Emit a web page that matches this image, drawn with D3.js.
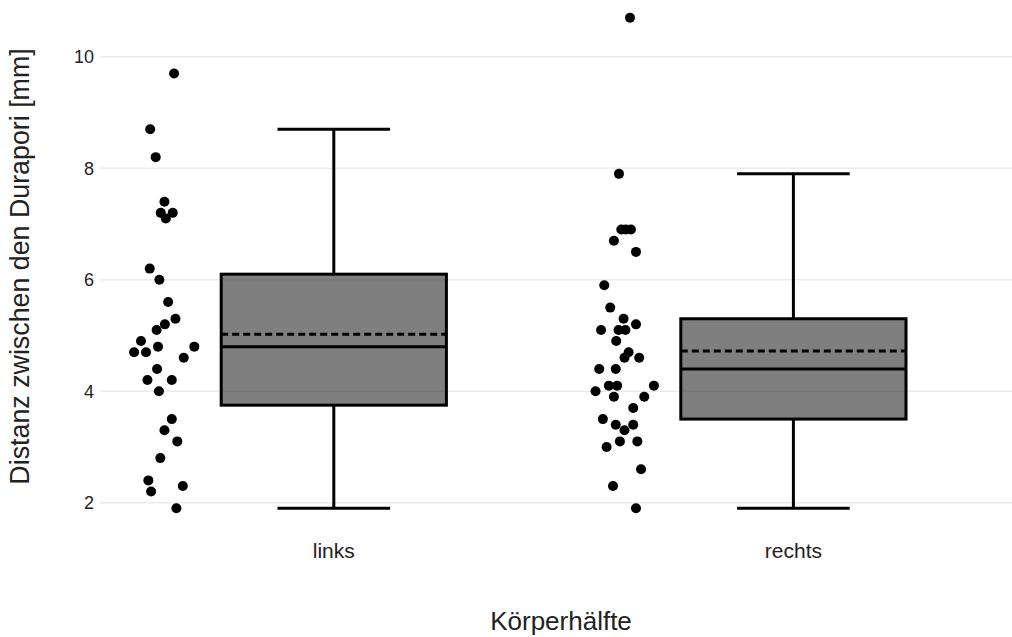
<!DOCTYPE html>
<html>
<head>
<meta charset="utf-8">
<script src="https://cdn.jsdelivr.net/npm/d3@7"></script>
<style>
  html, body { margin: 0; padding: 0; background: #fff; }
  text { font-family: "Liberation Sans", Arial, sans-serif; }
</style>
</head>
<body>
<div id="chart"></div>
<script>
// categories and measured values
const categories = ["links", "rechts"];

const linksValues = [9.7, 8.7, 8.2, 7.4, 7.2, 7.2, 7.1, 6.2, 6.0, 5.6, 5.3, 5.2, 5.1, 4.9, 4.8, 4.8,
  4.7, 4.7, 4.6, 4.4, 4.2, 4.2, 4.0, 3.5, 3.3, 3.1, 2.8, 2.4, 2.3, 2.2, 1.9];
const linksJitter = [0.020, -0.032, -0.020, -0.001, -0.009, 0.017, 0.002, -0.033, -0.012, 0.007, 0.023, 0.000,
  -0.018, -0.052, -0.015, 0.064, -0.067, -0.041, 0.041, -0.017, -0.038, 0.015, -0.013, 0.015, -0.001,
  0.027, -0.010, -0.036, 0.039, -0.030, 0.025];

const rechtsValues = [10.7, 7.9, 6.9, 6.9, 6.9, 6.7, 6.5, 5.9, 5.5, 5.3, 5.2, 5.1, 5.1, 5.1, 4.9, 4.7,
  4.6, 4.6, 4.4, 4.4, 4.0, 4.1, 4.1, 4.1, 3.9, 3.9, 3.7, 3.5, 3.4, 3.4, 3.3, 3.1, 3.1, 3.0, 2.6, 2.3, 1.9];
const rechtsJitter = [0.012, -0.012, -0.007, 0.003, 0.014, -0.023, 0.025, -0.044, -0.031, -0.002, 0.025,
  -0.051, -0.013, 0.002, -0.018, 0.009, 0.000, 0.032, -0.055, -0.019, -0.063, -0.034, -0.016, 0.064,
  -0.023, 0.043, 0.019, -0.047, -0.019, 0.019, 0.000, -0.010, 0.028, -0.039, 0.036, -0.025, 0.025];

const yTicks = [2, 4, 6, 8, 10];
const xTitle = "Körperhälfte";
const yTitle = "Distanz zwischen den Durapori [mm]";

// layout
const width = 1012, height = 637;
const plotLeft = 100, plotRight = 1012;
const boxWidth = 0.49;      // in category units
const pointPos = -1.5;      // cloud offset in half box widths

const svg = d3.select("#chart")
  .append("svg")
  .attr("width", width)
  .attr("height", height);

const x = d3.scaleLinear().domain([0, 1]).range([333.8, 793.4]);
const y = d3.scaleLinear().domain([2, 10]).range([502.7, 56.8]);

// box stats from the raw values (quartiles: median of halves incl. median)
function median(arr) {
  const n = arr.length, m = Math.floor(n / 2);
  return n % 2 ? arr[m] : (arr[m - 1] + arr[m]) / 2;
}
function boxStats(values) {
  const s = values.slice().sort((a, b) => a - b);
  const n = s.length, h = Math.ceil(n / 2);
  const q1 = median(s.slice(0, h));
  const q3 = median(s.slice(n - h));
  const iqr = q3 - q1;
  const lo = d3.min(s.filter(v => v >= q1 - 1.5 * iqr));
  const hi = d3.max(s.filter(v => v <= q3 + 1.5 * iqr));
  return { q1, q3, med: median(s), mean: d3.mean(s), lo, hi };
}

const groups = [
  { name: categories[0], values: linksValues, jitter: linksJitter },
  { name: categories[1], values: rechtsValues, jitter: rechtsJitter }
];
groups.forEach(g => g.stats = boxStats(g.values));

// grid
svg.append("g")
  .selectAll("line")
  .data(yTicks)
  .enter()
  .append("line")
  .attr("x1", plotLeft)
  .attr("x2", plotRight)
  .attr("y1", d => y(d))
  .attr("y2", d => y(d))
  .attr("stroke", "#ebebeb")
  .attr("stroke-width", 1.5);

// y axis tick labels
svg.append("g")
  .selectAll("text")
  .data(yTicks)
  .enter()
  .append("text")
  .attr("x", 94)
  .attr("y", d => y(d))
  .attr("dy", "0.36em")
  .attr("text-anchor", "end")
  .style("font-size", "18px")
  .attr("fill", "#222")
  .text(d => d);

// x axis tick labels
svg.append("g")
  .selectAll("text")
  .data(groups)
  .enter()
  .append("text")
  .attr("x", (d, i) => x(i))
  .attr("y", 558)
  .attr("text-anchor", "middle")
  .style("font-size", "21px")
  .attr("fill", "#222")
  .text(d => d.name);

// axis titles
svg.append("text")
  .attr("x", 561)
  .attr("y", 630)
  .attr("text-anchor", "middle")
  .style("font-size", "26px")
  .attr("fill", "#222")
  .text(xTitle);

svg.append("text")
  .attr("transform", "translate(29,266.5)rotate(-90)")
  .attr("text-anchor", "middle")
  .style("font-size", "26.8px")
  .attr("fill", "#222")
  .text(yTitle);

// boxes
const box = svg.append("g")
  .selectAll("g")
  .data(groups)
  .enter()
  .append("g");

const half = boxWidth / 2;
const px = (i, off) => x(i + off);

// whiskers
box.append("line")
  .attr("x1", (d, i) => x(i)).attr("x2", (d, i) => x(i))
  .attr("y1", d => y(d.stats.hi)).attr("y2", d => y(d.stats.q3))
  .attr("stroke", "#000").attr("stroke-width", 3);
box.append("line")
  .attr("x1", (d, i) => x(i)).attr("x2", (d, i) => x(i))
  .attr("y1", d => y(d.stats.q1)).attr("y2", d => y(d.stats.lo))
  .attr("stroke", "#000").attr("stroke-width", 3);
box.selectAll(".cap")
  .data((d, i) => [{ v: d.stats.hi, i }, { v: d.stats.lo, i }])
  .enter()
  .append("line")
  .attr("x1", d => px(d.i, -half / 2)).attr("x2", d => px(d.i, half / 2))
  .attr("y1", d => y(d.v)).attr("y2", d => y(d.v))
  .attr("stroke", "#000").attr("stroke-width", 3);

box.append("rect")
  .attr("x", (d, i) => px(i, -half))
  .attr("width", (d, i) => px(i, half) - px(i, -half))
  .attr("y", d => y(d.stats.q3))
  .attr("height", d => y(d.stats.q1) - y(d.stats.q3))
  .attr("fill", "rgba(0,0,0,0.5)")
  .attr("stroke", "#000")
  .attr("stroke-width", 3);

box.append("line")
  .attr("x1", (d, i) => px(i, -half)).attr("x2", (d, i) => px(i, half))
  .attr("y1", d => y(d.stats.med)).attr("y2", d => y(d.stats.med))
  .attr("stroke", "#000").attr("stroke-width", 3);

box.append("line")
  .attr("x1", (d, i) => px(i, -half)).attr("x2", (d, i) => px(i, half))
  .attr("y1", d => y(d.stats.mean)).attr("y2", d => y(d.stats.mean))
  .attr("stroke", "#000").attr("stroke-width", 3)
  .attr("stroke-dasharray", "7,4");

// points
box.selectAll("circle")
  .data((d, i) => d.values.map((v, k) => ({ v, i, j: d.jitter[k] })))
  .enter()
  .append("circle")
  .attr("cx", d => px(d.i, pointPos * half + d.j))
  .attr("cy", d => y(d.v))
  .attr("r", 5)
  .attr("fill", "#000");
</script>
</body>
</html>
